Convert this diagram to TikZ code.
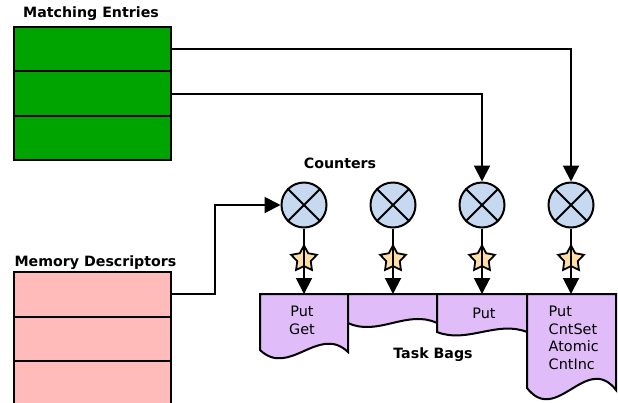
\documentclass[tikz,border=0pt]{standalone}
\usepackage{fontspec}
\setmainfont{DejaVu Sans}
\usetikzlibrary{shapes.geometric,arrows.meta}
\definecolor{megreen}{HTML}{00A400}
\definecolor{mdpink}{HTML}{FFBABA}
\definecolor{cntblue}{HTML}{C6D9F0}
\definecolor{starfill}{HTML}{FFDEA8}
\definecolor{bagfill}{HTML}{E0BCF8}
\begin{document}
\begin{tikzpicture}[x=1pt,y=-1pt,
  every node/.style={font=\fontsize{14.4}{17.5}\selectfont, inner sep=0pt},
  lbl/.style={font=\fontsize{14.2}{17}\selectfont\bfseries},
  mebox/.style={draw, line width=2pt, fill=megreen, minimum width=157pt, minimum height=44.33pt},
  mdbox/.style={draw, line width=2pt, fill=mdpink, minimum width=157pt, minimum height=44.5pt},
  cnt/.style={draw, circle, line width=2pt, fill=cntblue, minimum size=45pt},
  cross/.style={line width=1.8pt},
  stard/.style={draw, star, star points=5, star point ratio=1.9, line width=1.8pt, fill=starfill, minimum size=27pt},
  bag/.style={draw, line width=2pt, fill=bagfill, line join=miter},
  conn/.style={line width=2pt, -{Triangle[length=16pt,width=16pt]}}]
\useasboundingbox (0,0) rectangle (618,402);
\clip (0,0) rectangle (618,402);

% Matching entries
\node[lbl] (melbl) at (91,14) {Matching Entries};
\node[mebox] (me1) at (92.5,49.2) {};
\node[mebox] (me2) at (92.5,93.5) {};
\node[mebox] (me3) at (92.5,137.8) {};

% Memory descriptors
\node[lbl] (mdlbl) at (95.5,263) {Memory Descriptors};
\node[mdbox] (md1) at (92.5,294.25) {};
\node[mdbox] (md2) at (92.5,338.75) {};
\node[mdbox] (md3) at (92.5,383.25) {};

% Counters
\node[lbl] (cntlbl) at (340,163) {Counters};
\foreach \i/\x in {1/304,2/393,3/482,4/571}{
  \node[cnt] (c\i) at (\x,205) {};
  \draw[cross] (c\i.north west) -- (c\i.south east) (c\i.north east) -- (c\i.south west);
  \node[stard] (s\i) at (\x,259) {};
  \coordinate (t\i) at (\x,294);
}

% Task bags
\path[bag] (260,294) -- (348,294) -- (348,352) .. controls (318.7,324) and (289.3,378) .. (260,350) -- cycle;
\path[bag] (348,294) -- (437,294) -- (437,323) .. controls (407.3,309) and (377.7,337) .. (348,323) -- cycle;
\path[bag] (437,294) -- (527,294) -- (527,332) .. controls (497,320) and (467,344) .. (437,332) -- cycle;
\path[bag] (527,294) -- (616,294) -- (616,390) .. controls (586.3,352) and (556.7,426) .. (527,388) -- cycle;

\node[align=center] (b1txt) at (302,320.5) {Put\\Get};
\node (b3txt) at (484,313) {Put};
\node[align=left, anchor=west] (b4txt) at (548.5,338) {Put\\CntSet\\Atomic\\CntInc};
\node[lbl] (baglbl) at (433,355) {Task Bags};

% counter to bag arrows
\foreach \i in {1,...,4}{
  \draw[conn] (c\i) -- (t\i);
}

% connectors
\draw[conn] (me1.east) -| (c4);
\draw[conn] (me2.east) -| (c3);
\draw[conn] (md1.east) -- ++(43,0) |- (c1);
\end{tikzpicture}
\end{document}
